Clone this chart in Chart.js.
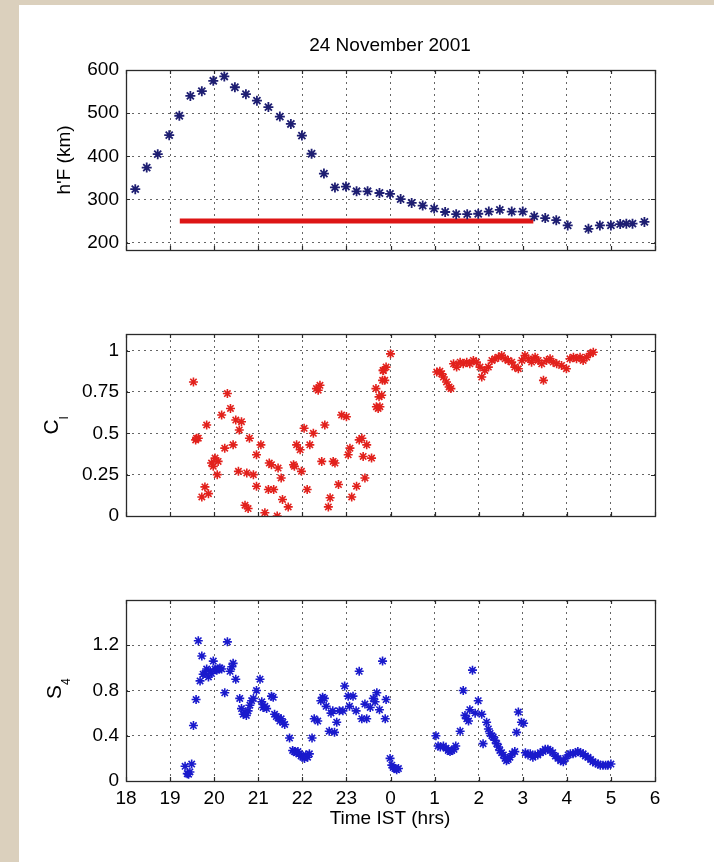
<!DOCTYPE html>
<html>
<head>
<meta charset="utf-8">
<script src="https://cdn.jsdelivr.net/npm/chart.js@4.4.1/dist/chart.umd.min.js"></script>
<style>
html,body{margin:0;padding:0;}
#wrap{position:relative;width:714px;height:862px;background:#dbd0bd;overflow:hidden;}
#paper{position:absolute;left:19px;top:5px;right:0;bottom:0;background:#fff;}
canvas{position:absolute;left:0;top:0;}
</style>
</head>
<body>
<div id="wrap">
<div id="paper"></div>
<canvas id="c1" width="714" height="862"></canvas>
<canvas id="c2" width="714" height="862"></canvas>
<canvas id="c3" width="714" height="862"></canvas>
</div>
<script>
// ---------- DATA ----------
const xTicks = [18,19,20,21,22,23,24,25,26,27,28,29,30];
const xTickLabels = ['18','19','20','21','22','23','0','1','2','3','4','5','6'];

const hfTicks = [200,300,400,500,600];
const hfTime = [18.21,18.47,18.72,18.98,19.21,19.46,19.72,19.98,20.23,20.47,20.72,20.97,21.23,21.49,21.74,21.99,22.21,22.49,22.74,22.99,23.23,23.48,23.75,23.99,24.23,24.48,24.73,24.99,25.24,25.49,25.74,25.99,26.23,26.48,26.75,27.0,27.26,27.51,27.76,28.02,28.49,28.75,29.0,29.21,29.35,29.49,29.76];
const hfValue = [324,374,405,449,494,540,551,575,585,560,544,529,514,492,475,448,406,360,328,330,319,319,315,313,301,292,286,279,271,266,266,267,272,276,272,272,261,257,252,240,232,240,240,243,244,244,248];
const refTime = [19.22,27.24];
const refValue = [250,250];

const ciTicks = [0,0.25,0.5,0.75,1];
const ciTime = [19.53,19.60,19.58,19.64,19.72,19.79,19.87,19.83,19.94,20.02,19.98,20.07,20.09,20.17,20.24,20.30,20.37,20.43,20.49,20.62,20.57,20.55,20.70,20.77,20.80,20.74,20.89,20.96,20.96,21.06,21.15,21.23,21.25,21.30,21.35,21.45,21.43,21.52,21.55,21.68,21.80,21.82,21.87,21.95,21.98,22.04,22.11,22.17,22.25,22.32,22.40,22.36,22.44,22.51,22.59,22.63,22.70,22.74,22.82,22.89,23.00,23.04,23.08,23.12,23.23,23.29,23.35,23.38,23.42,23.46,23.57,23.67,23.74,23.68,23.72,23.76,23.80,23.82,23.84,23.87,23.83,23.90,24.00,
25.05,25.12,25.16,25.20,25.27,25.33,25.37,25.43,25.50,25.58,25.65,25.73,25.80,25.88,25.95,26.03,26.07,26.14,26.22,26.30,26.37,26.45,26.52,26.60,26.67,26.75,26.82,26.90,26.98,27.05,27.13,27.20,27.28,27.35,27.43,27.47,27.54,27.62,27.69,27.77,27.88,27.99,28.07,28.15,28.22,28.30,28.37,28.45,28.53,28.60];
const ciValue = [0.81,0.47,0.46,0.47,0.115,0.176,0.135,0.55,0.32,0.35,0.30,0.25,0.33,0.61,0.41,0.74,0.65,0.43,0.58,0.57,0.52,0.27,0.065,0.045,0.47,0.26,0.25,0.37,0.18,0.43,0.02,0.16,0.32,0.31,0.16,0.29,0.00,0.23,0.10,0.055,0.31,0.30,0.43,0.40,0.27,0.53,0.16,0.43,0.50,0.77,0.79,0.76,0.33,0.55,0.055,0.11,0.33,0.32,0.19,0.61,0.60,0.37,0.41,0.115,0.18,0.46,0.47,0.36,0.23,0.43,0.35,0.77,0.72,0.66,0.65,0.66,0.73,0.82,0.88,0.82,0.88,0.90,0.98,
0.87,0.875,0.86,0.84,0.81,0.78,0.77,0.92,0.90,0.93,0.92,0.93,0.92,0.94,0.93,0.90,0.84,0.88,0.90,0.94,0.95,0.96,0.97,0.95,0.94,0.93,0.90,0.89,0.94,0.97,0.95,0.93,0.96,0.94,0.92,0.82,0.94,0.95,0.93,0.92,0.91,0.89,0.95,0.96,0.95,0.96,0.94,0.96,0.98,0.99];

const s4Ticks = [0,0.4,0.8,1.2];
const s4Time = [19.34,19.39,19.42,19.45,19.49,19.53,19.59,19.64,19.68,19.72,19.75,19.79,19.83,19.87,19.91,19.94,19.98,20.02,20.06,20.09,20.13,20.17,20.24,20.30,20.36,20.40,20.43,20.49,20.58,20.62,20.66,20.70,20.73,20.77,20.81,20.85,20.89,20.96,21.04,21.08,21.11,21.15,21.19,21.30,21.34,21.37,21.41,21.45,21.49,21.52,21.56,21.60,21.71,21.78,21.82,21.86,21.90,21.93,21.97,22.01,22.05,22.08,22.12,22.16,22.22,22.27,22.35,22.42,22.46,22.50,22.54,22.61,22.65,22.69,22.73,22.78,22.84,22.92,22.96,23.04,23.07,23.15,23.22,23.29,23.35,23.42,23.46,23.54,23.61,23.65,23.69,23.75,23.82,23.88,23.90,23.99,24.03,24.06,24.10,24.14,24.18,
25.03,25.08,25.13,25.20,25.26,25.31,25.35,25.39,25.44,25.48,25.58,25.65,25.69,25.73,25.77,25.80,25.86,25.92,25.99,26.07,26.10,26.18,26.22,26.26,26.30,26.33,26.37,26.41,26.45,26.48,26.52,26.56,26.60,26.63,26.67,26.71,26.76,26.82,26.86,26.90,26.97,27.02,27.06,27.12,27.17,27.23,27.28,27.34,27.40,27.46,27.51,27.57,27.62,27.68,27.74,27.80,27.86,27.92,27.97,28.03,28.08,28.14,28.20,28.25,28.31,28.37,28.42,28.48,28.54,28.59,28.65,28.71,28.76,28.82,28.88,28.93,29.00];
const s4Value = [0.13,0.065,0.06,0.08,0.15,0.49,0.72,1.24,0.885,1.105,0.944,0.95,0.99,0.92,0.97,0.95,1.06,0.99,0.98,0.99,1.00,0.99,0.78,1.23,0.97,1.01,1.04,0.90,0.73,0.64,0.59,0.60,0.58,0.62,0.67,0.71,0.73,0.80,0.90,0.70,0.65,0.66,0.64,0.75,0.74,0.59,0.57,0.56,0.53,0.55,0.52,0.50,0.38,0.27,0.26,0.25,0.26,0.24,0.22,0.21,0.20,0.23,0.21,0.24,0.38,0.55,0.53,0.71,0.74,0.73,0.66,0.44,0.60,0.62,0.43,0.52,0.62,0.62,0.84,0.75,0.66,0.75,0.62,0.97,0.55,0.68,0.55,0.65,0.73,0.70,0.78,0.63,1.06,0.55,0.72,0.20,0.14,0.12,0.11,0.10,0.11,
0.40,0.31,0.30,0.31,0.29,0.27,0.26,0.27,0.28,0.31,0.44,0.80,0.58,0.55,0.53,0.63,0.98,0.60,0.71,0.59,0.33,0.52,0.46,0.42,0.40,0.39,0.36,0.33,0.30,0.27,0.25,0.23,0.20,0.18,0.19,0.21,0.24,0.26,0.43,0.61,0.52,0.51,0.25,0.23,0.24,0.21,0.23,0.23,0.25,0.26,0.28,0.28,0.27,0.25,0.22,0.20,0.18,0.17,0.20,0.23,0.24,0.24,0.25,0.26,0.25,0.24,0.22,0.21,0.19,0.17,0.16,0.15,0.14,0.14,0.14,0.14,0.15];

// ---------- HELPERS ----------
const FONT = '"Liberation Sans", Arial, Helvetica, sans-serif';
const pts = (t, v) => t.map((x, i) => ({x: x, y: v[i]}));

function drawRot(ctx, cx, cy, main, mainSize, sub, subSize, subDx, subDy) {
  ctx.save();
  ctx.translate(cx, cy);
  ctx.rotate(-Math.PI / 2);
  ctx.fillStyle = '#000';
  ctx.textBaseline = 'middle';
  ctx.textAlign = 'center';
  ctx.font = mainSize + 'px ' + FONT;
  ctx.fillText(main, 0, 0);
  if (sub) {
    const w = ctx.measureText(main).width;
    ctx.font = subSize + 'px ' + FONT;
    ctx.textAlign = 'left';
    ctx.fillText(sub, w / 2 + subDx, subDy);
  }
  ctx.restore();
}

const framePlugin = {
  id: 'frame',
  afterDraw(chart, args, opts) {
    const {ctx, chartArea: a} = chart;
    const xs = chart.scales.x, ys = chart.scales.y;
    ctx.save();
    ctx.strokeStyle = '#2a2a2a';
    ctx.lineWidth = 1.3;
    ctx.strokeRect(a.left + 0.5, a.top + 0.5, a.right - a.left, a.bottom - a.top);
    ctx.beginPath();
    ctx.lineWidth = 1.2;
    xTicks.forEach(v => {
      const p = Math.round(xs.getPixelForValue(v)) + 0.5;
      ctx.moveTo(p, a.top); ctx.lineTo(p, a.top + 4);
      ctx.moveTo(p, a.bottom); ctx.lineTo(p, a.bottom - 4);
    });
    opts.yt.forEach(v => {
      const p = Math.round(ys.getPixelForValue(v)) + 0.5;
      ctx.moveTo(a.left, p); ctx.lineTo(a.left + 4, p);
      ctx.moveTo(a.right, p); ctx.lineTo(a.right - 4, p);
    });
    ctx.stroke();
    if (opts.draw) opts.draw(ctx);
    ctx.restore();
  }
};

function makeChart(id, cfg) {
  const gridStyle = {color: 'rgba(0,0,0,0.6)', lineWidth: 1, drawTicks: false};
  return new Chart(document.getElementById(id), {
    type: 'scatter',
    data: {datasets: cfg.datasets},
    options: {
      responsive: false,
      animation: false,
      devicePixelRatio: 1,
      events: [],
      layout: {padding: {left: 0, right: 59, top: cfg.top, bottom: 0}},
      plugins: {legend: {display: false}, tooltip: {enabled: false}, frame: {yt: cfg.yTicks, draw: cfg.draw}},
      scales: {
        x: {
          type: 'linear', min: 18, max: 30,
          afterFit: s => { s.height = 862 - cfg.bottom; },
          afterBuildTicks: s => { s.ticks = xTicks.map(v => ({value: v})); },
          grid: gridStyle,
          border: {display: false, dash: [2, 4]},
          ticks: {
            display: cfg.xLabels, padding: 6, maxRotation: 0, autoSkip: false,
            color: '#000', font: {family: FONT, size: 19},
            callback: v => xTickLabels[xTicks.indexOf(v)]
          }
        },
        y: {
          type: 'linear', min: cfg.ymin, max: cfg.ymax,
          afterFit: s => { s.width = 126; },
          afterBuildTicks: s => { s.ticks = cfg.yTicks.map(v => ({value: v})); },
          grid: gridStyle,
          border: {display: false, dash: [2, 4]},
          ticks: {
            padding: 7, color: '#000', font: {family: FONT, size: 19},
            callback: v => String(v)
          }
        }
      }
    },
    plugins: [framePlugin]
  });
}

// ---------- PANEL 1 ----------
makeChart('c1', {
  top: 70, bottom: 250, ymin: 183, ymax: 600, yTicks: hfTicks, xLabels: false,
  datasets: [
    {data: pts(refTime, refValue), showLine: true, borderColor: '#dd1515', borderWidth: 5, pointRadius: 0, borderCapStyle: 'butt', order: 2},
    {data: pts(hfTime, hfValue), pointStyle: 'star', pointRadius: 5, borderWidth: 1.8, borderColor: '#1e1e72', backgroundColor: '#1e1e72', order: 1}
  ],
  draw: ctx => {
    ctx.fillStyle = '#000';
    ctx.font = '19px ' + FONT;
    ctx.textAlign = 'center';
    ctx.textBaseline = 'middle';
    ctx.fillText('24 November 2001', 390, 46);
    drawRot(ctx, 65, 160, "h'F (km)", 19);
  }
});

// ---------- PANEL 2 ----------
makeChart('c2', {
  top: 334, bottom: 516, ymin: 0, ymax: 1.1, yTicks: ciTicks, xLabels: false,
  datasets: [
    {data: pts(ciTime, ciValue), pointStyle: 'star', pointRadius: 4.5, borderWidth: 1.6, borderColor: '#e2211c', backgroundColor: '#e2211c'}
  ],
  draw: ctx => { drawRot(ctx, 52, 427, 'C', 21, 'I', 12, 0, 13); }
});

// ---------- PANEL 3 ----------
makeChart('c3', {
  top: 600, bottom: 781, ymin: 0, ymax: 1.6, yTicks: s4Ticks, xLabels: true,
  datasets: [
    {data: pts(s4Time, s4Value), pointStyle: 'star', pointRadius: 4.5, borderWidth: 1.6, borderColor: '#1a1acc', backgroundColor: '#1a1acc'}
  ],
  draw: ctx => {
    drawRot(ctx, 55, 692, 'S', 21, '4', 12, 0, 12);
    ctx.fillStyle = '#000';
    ctx.font = '19px ' + FONT;
    ctx.textAlign = 'center';
    ctx.textBaseline = 'middle';
    ctx.fillText('Time IST (hrs)', 390, 819);
  }
});
</script>
</body>
</html>
